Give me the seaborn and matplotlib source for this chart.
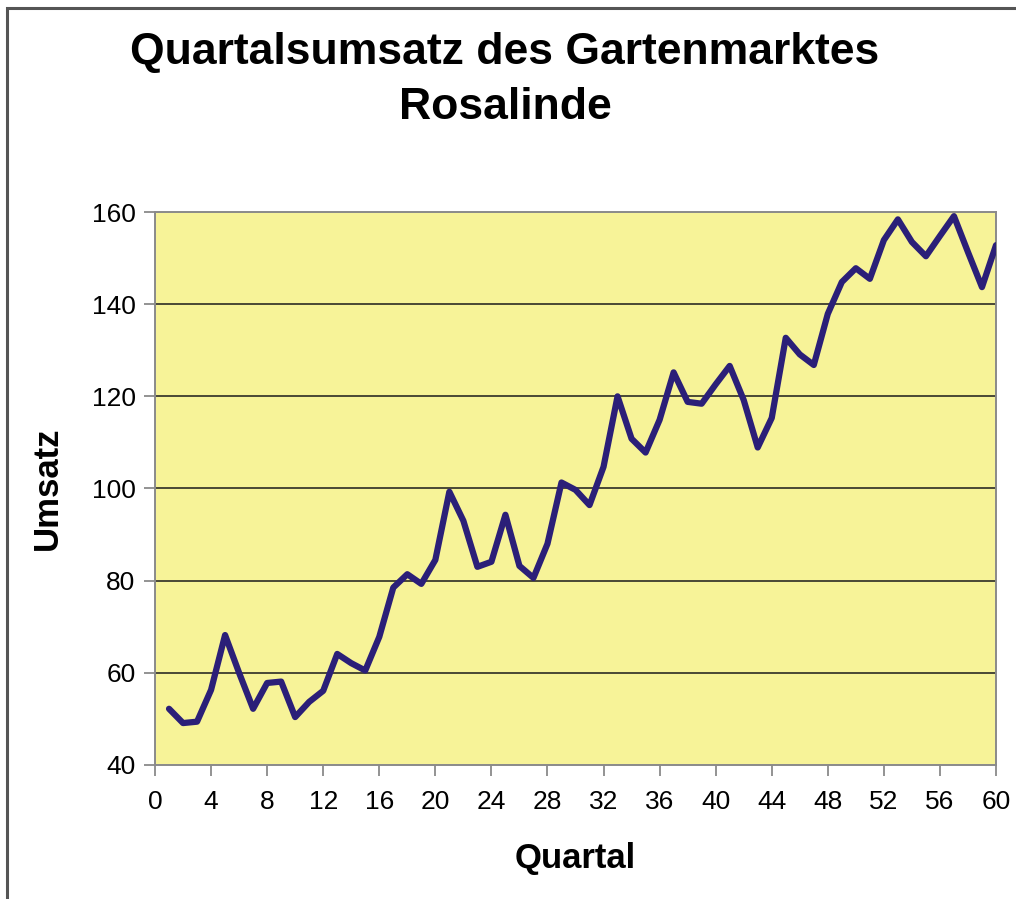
import matplotlib
matplotlib.use("Agg")
import matplotlib.pyplot as plt
import seaborn as sns
import pandas as pd
from matplotlib.patches import Rectangle

# Quarterly revenue of the garden centre
quartal = list(range(1, 61))
umsatz = [52.2, 49.1, 49.4, 56.3, 68.2, 60.0, 52.2, 57.8, 58.1, 50.4,
          53.7, 56.1, 64.1, 62.1, 60.5, 67.8, 78.5, 81.4, 79.3, 84.5,
          99.3, 93.0, 83.0, 84.1, 94.3, 83.2, 80.6, 88.0, 101.3, 99.7,
          96.4, 104.7, 120.0, 110.8, 107.8, 114.9, 125.2, 118.8, 118.4, 122.6,
          126.6, 119.2, 108.9, 115.3, 132.7, 129.1, 126.8, 137.9, 144.8, 147.8,
          145.5, 153.9, 158.4, 153.5, 150.4, 154.8, 159.1, 151.3, 143.7, 152.8]
x_ticks = list(range(0, 61, 4))
y_ticks = list(range(40, 161, 20))

title = "Quartalsumsatz des Gartenmarktes\nRosalinde"
x_label = "Quartal"
y_label = "Umsatz"

df = pd.DataFrame({"Quartal": quartal, "Umsatz": umsatz})

sns.set_theme(style="white")
plt.rcParams["font.family"] = ["Liberation Sans", "DejaVu Sans"]
plt.rcParams["text.color"] = "black"
plt.rcParams["axes.labelcolor"] = "black"
plt.rcParams["xtick.color"] = "black"
plt.rcParams["ytick.color"] = "black"

fig = plt.figure(figsize=(10.16, 8.99), dpi=100)
ax = fig.add_axes([155 / 1016, 1 - 765 / 899, (996 - 155) / 1016, (765 - 212) / 899])

# outer chart frame (top and left edges)
fig.patches.append(Rectangle((7 / 1016, -0.01), 1.05, 1 - 8 / 899 + 0.01,
                             transform=fig.transFigure, fill=False,
                             edgecolor="#555555", linewidth=2.2, zorder=0))

ax.set_facecolor("#F7F398")
for y in y_ticks[1:-1]:
    ax.axhline(y, color="#1a1a1a", linewidth=1.1, zorder=1)

sns.lineplot(data=df, x="Quartal", y="Umsatz", ax=ax, color="#2B1F78",
             linewidth=4.5, zorder=3)

ax.set_xlim(0, 60)
ax.set_ylim(40, 160)
ax.set_xticks(x_ticks)
ax.set_yticks(y_ticks)
ax.tick_params(axis="both", which="major", direction="out", length=8,
               width=1.2, color="#808080", labelcolor="black", labelsize=19,
               pad=6, bottom=True, left=True)
ax.tick_params(axis="x", pad=10)
for side in ["left", "bottom", "top", "right"]:
    ax.spines[side].set_color("#8a8a8a")
    ax.spines[side].set_linewidth(1.4)
    ax.spines[side].set_visible(True)

ax.set_xlabel(x_label, fontsize=25, fontweight="bold", labelpad=20)
ax.set_ylabel(y_label, fontsize=25, fontweight="bold", labelpad=20)

fig.text(505 / 1016, 1 - 80 / 899, title, ha="center", va="center",
         fontsize=32, fontweight="bold", linespacing=1.45)

fig.savefig("out.png", dpi=100)
